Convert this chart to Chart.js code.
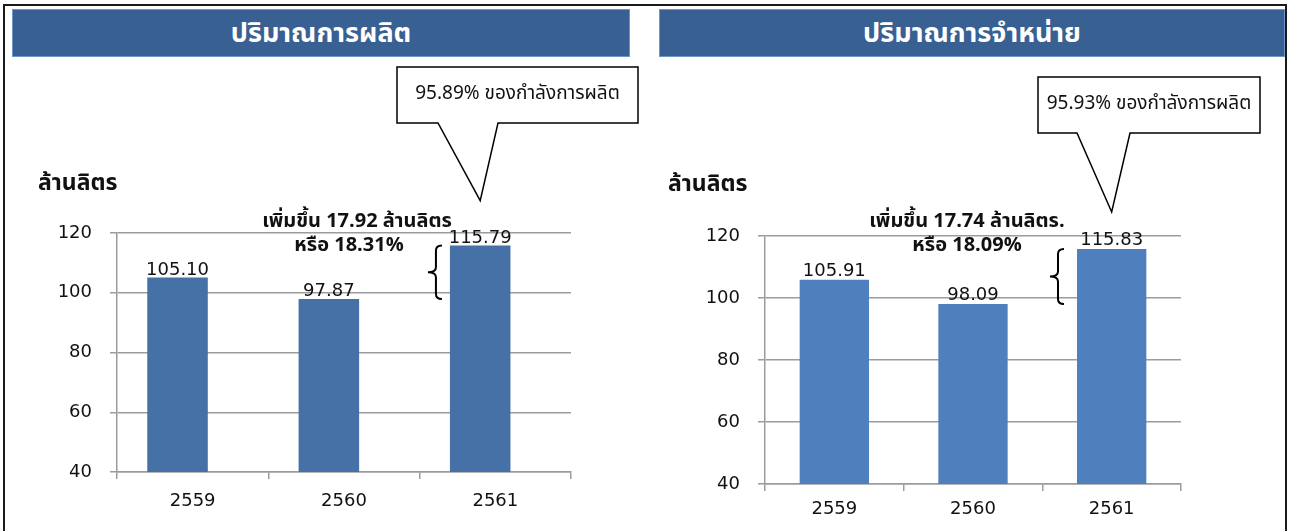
<!DOCTYPE html>
<html>
<head>
<meta charset="utf-8">
<title>ปริมาณการผลิต / ปริมาณการจำหน่าย</title>
<script src="https://cdn.jsdelivr.net/npm/chart.js"></script>
<style>
  body {
    margin: 0;
    width: 1291px;
    height: 531px;
    overflow: hidden;
    position: relative;
    background: #fff;
    font-family: Tahoma, 'Noto Sans Thai', 'DejaVu Sans', sans-serif;
  }
  .frame {
    position: absolute;
    left: 3px; top: 4px;
    width: 1280px; height: 560px;
    border: 2px solid #1a1a1a;
  }
  .head {
    position: absolute;
    top: 9px; height: 46px;
    background: #386092;
    border: 1px solid #6d95c8;
    color: #fff;
    font-weight: bold;
    font-size: 27px;
    display: flex;
    align-items: center;
    justify-content: center;
  }
  .panel { position: absolute; top: 60px; height: 471px; }
</style>
</head>
<body>
<div class="frame"></div>
<div class="head" style="left:12px;width:616px">ปริมาณการผลิต</div>
<div class="head" style="left:659px;width:624px">ปริมาณการจำหน่าย</div>
<div class="panel" style="left:6px;width:636px"><canvas id="prodChart"></canvas></div>
<div class="panel" style="left:652px;width:632px"><canvas id="salesChart"></canvas></div>

<script>
// ข้อมูล
const years = ['2559', '2560', '2561'];
const prodValues = [105.10, 97.87, 115.79];   // ล้านลิตร
const salesValues = [105.91, 98.09, 115.83];
const yTicks = [40, 60, 80, 100, 120];

const unitLabel = 'ล้านลิตร';
const prodNote = ['เพิ่มขึ้น 17.92 ล้านลิตร', 'หรือ 18.31%'];
const salesNote = ['เพิ่มขึ้น 17.74 ล้านลิตร.', 'หรือ 18.09%'];
const prodCallout = '95.89% ของกำลังการผลิต';
const salesCallout = '95.93% ของกำลังการผลิต';

const NUM_FONT = "'DejaVu Sans', sans-serif";
const THAI_FONT = "Tahoma, 'Noto Sans Thai', 'DejaVu Sans', sans-serif";
const INK = '#111';
const AXIS = '#9c9c9c';

// ป้ายค่า วงเล็บ และกล่องข้อความ
const notes = {
  id: 'notes',
  afterDatasetsDraw(chart, args, o) {
    const ctx = chart.ctx;
    const bars = chart.getDatasetMeta(0).data;
    const vals = chart.data.datasets[0].data;
    ctx.save();

    // ค่าบนแท่ง
    ctx.fillStyle = INK;
    ctx.font = `18px ${NUM_FONT}`;
    ctx.textAlign = 'center';
    ctx.textBaseline = 'alphabetic';
    bars.forEach((b, i) => ctx.fillText(vals[i].toFixed(2), b.x, b.y - o.labelGap));

    // หน่วย
    ctx.font = `bold 23px ${THAI_FONT}`;
    ctx.textAlign = 'left';
    ctx.textBaseline = 'middle';
    ctx.fillText(unitLabel, o.unit[0], o.unit[1]);

    // ส่วนเพิ่ม
    ctx.font = `bold 20px ${THAI_FONT}`;
    ctx.textAlign = 'center';
    ctx.fillText(o.note[0], o.notePos[0], o.notePos[1]);
    ctx.fillText(o.note[1], o.notePos[2], o.notePos[3]);

    // วงเล็บปีกกา ระหว่างความสูงแท่งปีก่อนกับปีล่าสุด
    const last = bars[bars.length - 1], prev = bars[bars.length - 2];
    const xv = last.x - last.width / 2 - o.braceGap;
    const yT = last.y, yB = prev.y, yM = (yT + yB) / 2;
    ctx.strokeStyle = '#000';
    ctx.lineWidth = 2;
    ctx.beginPath();
    ctx.moveTo(xv + 6, yT);
    ctx.quadraticCurveTo(xv, yT, xv, yT + 5);
    ctx.lineTo(xv, yM - 5);
    ctx.quadraticCurveTo(xv, yM, xv - 8, yM);
    ctx.quadraticCurveTo(xv, yM, xv, yM + 5);
    ctx.lineTo(xv, yB - 5);
    ctx.quadraticCurveTo(xv, yB, xv + 6, yB);
    ctx.stroke();

    // กล่องข้อความชี้ไปที่แท่งล่าสุด
    const [bx, by, bw, bh] = o.box;
    const tipX = last.x, tipY = last.y - o.tipGap;
    ctx.fillStyle = '#fff';
    ctx.lineWidth = 1.5;
    ctx.beginPath();
    ctx.moveTo(bx, by);
    ctx.lineTo(bx + bw, by);
    ctx.lineTo(bx + bw, by + bh);
    ctx.lineTo(o.tail[1], by + bh);
    ctx.lineTo(tipX, tipY);
    ctx.lineTo(o.tail[0], by + bh);
    ctx.lineTo(bx, by + bh);
    ctx.closePath();
    ctx.fill();
    ctx.stroke();
    ctx.fillStyle = INK;
    ctx.font = `19px ${THAI_FONT}`;
    ctx.textBaseline = 'middle';
    ctx.fillText(o.callout, bx + bw / 2, by + bh / 2);

    ctx.restore();
  }
};

function makeScales(yWidth, xHeight, xPad) {
  return {
    x: {
      grid: { display: true, drawOnChartArea: false, tickLength: 7, color: AXIS, lineWidth: 1.5 },
      border: { color: AXIS, width: 1.5 },
      ticks: { color: INK, font: { family: NUM_FONT, size: 18 }, padding: xPad },
      afterFit: s => { s.height = xHeight; }
    },
    y: {
      min: yTicks[0],
      max: yTicks[yTicks.length - 1],
      afterBuildTicks: s => { s.ticks = yTicks.map(v => ({ value: v })); },
      ticks: { color: INK, font: { family: NUM_FONT, size: 18 }, padding: 18 },
      grid: { color: AXIS, lineWidth: 1.5, tickLength: 7 },
      border: { color: AXIS, width: 1.5 },
      afterFit: s => { s.width = yWidth; }
    }
  };
}

const baseOpts = {
  responsive: true,
  maintainAspectRatio: false,
  animation: false,
  events: []
};

// ปริมาณการผลิต: ชุดข้อมูลว่างชุดที่สองทำให้แท่งเยื้องซ้ายของกลางหมวดเหมือนต้นฉบับ
new Chart(document.getElementById('prodChart'), {
  type: 'bar',
  data: {
    labels: years,
    datasets: [
      { data: prodValues, backgroundColor: '#4571a6', categoryPercentage: 0.4, barPercentage: 2 },
      { data: [], backgroundColor: '#4571a6', categoryPercentage: 0.4, barPercentage: 2 }
    ]
  },
  options: {
    ...baseOpts,
    layout: { padding: { top: 173, right: 71, left: 0, bottom: 0 } },
    plugins: {
      legend: { display: false },
      tooltip: { enabled: false },
      notes: {
        labelGap: 3,
        unit: [32, 125],
        note: prodNote,
        notePos: [351, 163, 343, 187],
        braceGap: 14,
        box: [391, 7, 241, 56],
        tail: [432, 492],
        tipGap: 45,
        callout: prodCallout
      }
    },
    scales: makeScales(111, 59, 12)
  },
  plugins: [notes]
});

// ปริมาณการจำหน่าย
new Chart(document.getElementById('salesChart'), {
  type: 'bar',
  data: {
    labels: years,
    datasets: [
      { data: salesValues, backgroundColor: '#4f80bd', categoryPercentage: 1, barPercentage: 0.5 }
    ]
  },
  options: {
    ...baseOpts,
    layout: { padding: { top: 176, right: 103, left: 0, bottom: 0 } },
    plugins: {
      legend: { display: false },
      tooltip: { enabled: false },
      notes: {
        labelGap: 4,
        unit: [16, 126],
        note: salesNote,
        notePos: [315, 163, 315, 187],
        braceGap: 19,
        box: [386, 17, 222, 56],
        tail: [425, 478],
        tipGap: 37,
        callout: salesCallout
      }
    },
    scales: makeScales(113, 47, 8)
  },
  plugins: [notes]
});
</script>
</body>
</html>
